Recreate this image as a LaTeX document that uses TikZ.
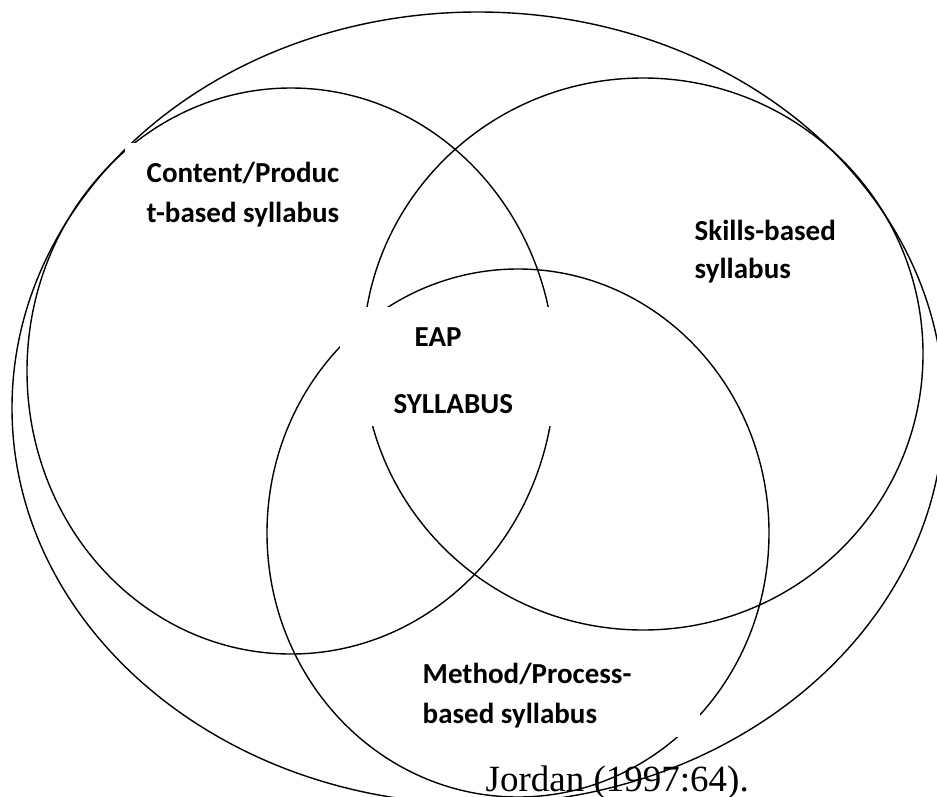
\documentclass[tikz,border=0pt]{standalone}
\usepackage{fontspec}
\setmainfont{Carlito}
\newfontfamily\citefont{Liberation Serif}

\begin{document}
\begin{tikzpicture}[x=1pt, y=-1pt, line width=1.4pt,
    sylltext/.style={anchor=base west, inner sep=0pt, font=\fontsize{29}{40}\selectfont\bfseries},
    gapbox/.style={fill=white}]
  \useasboundingbox (0,0) rectangle (937,796);
  \clip (0,0) rectangle (937,796);
  % outer ellipse and the three syllabus circles
  \draw (478,408) ellipse (466 and 396);
  \draw (291,371) ellipse (264 and 283);
  \draw (643,354) ellipse (280 and 276);
  \draw (518,533) ellipse (251 and 264);
  % white text boxes that hide the lines
  \fill[gapbox] (125,143) rectangle (360,240);
  \fill[gapbox] (340,307) rectangle (580,426);
  \fill[gapbox] (405,650) rectangle (700,737);
  \node[sylltext] (content1) at (146,182) {Content/Produc};
  \node[sylltext] (content2) at (146,222) {t-based syllabus};
  \node[sylltext] (skills1) at (694,240) {Skills-based};
  \node[sylltext] (skills2) at (694,278) {syllabus};
  \node[sylltext] (eap1) at (414,346) {EAP};
  \node[sylltext] (eap2) at (393,413) {SYLLABUS};
  \node[sylltext] (method1) at (422,683) {Method/Process-};
  \node[sylltext] (method2) at (422,723) {based syllabus};
  \node[anchor=base west, inner sep=0pt, font=\citefont\fontsize{37}{44}\selectfont] (source) at (485,791) {Jordan (1997:64).};
\end{tikzpicture}
\end{document}
